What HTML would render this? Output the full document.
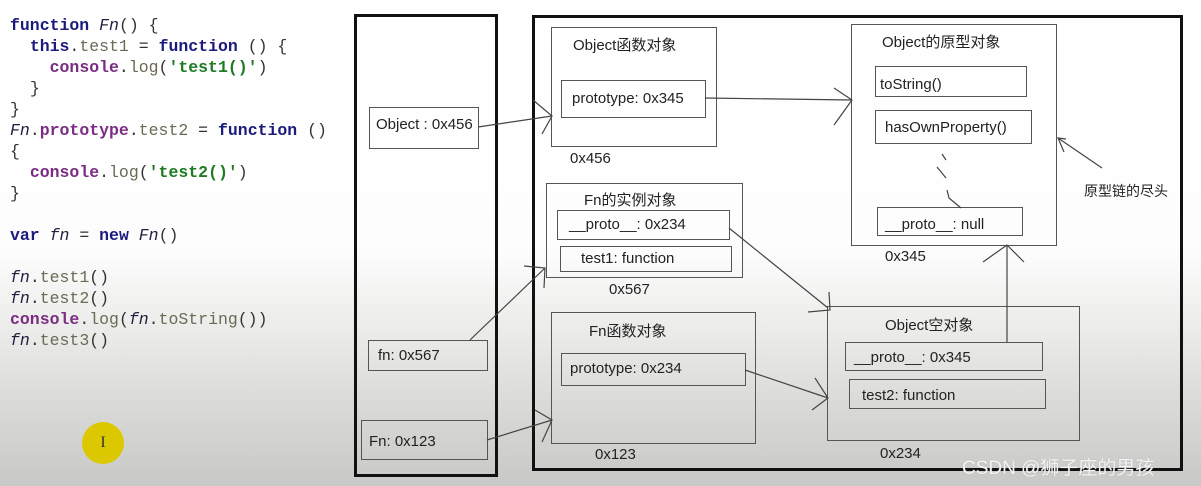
<!DOCTYPE html>
<html><head><meta charset="utf-8"><style>
*{margin:0;padding:0;box-sizing:border-box}
body{width:1201px;height:486px;overflow:hidden;position:relative;font-family:"Liberation Sans","Noto Sans CJK SC",sans-serif;
background:linear-gradient(to bottom,#fff 0,#fdfdfd 250px,#e9e9e7 340px,#d6d7d4 420px,#c8c9c6 486px)}
.code{position:absolute;left:10px;top:15px;font-family:"Liberation Mono",monospace;font-size:16.5px;line-height:21px;white-space:pre;color:#222;font-weight:bold}
.k{color:#1b1b7e}.p{color:#7a2d83}.g{color:#6b6a55;font-weight:normal}.s{color:#1e7a23}.i{font-style:italic;color:#1f1f3f;font-weight:normal}.n{color:#333;font-weight:normal}
.b{position:absolute;border:1.5px solid #555}
.t{position:absolute;font-size:15px;color:#222;white-space:nowrap}
</style></head><body>
<div class="code"><span class="k">function</span> <span class="i">Fn</span><span class="n">() {</span>
  <span class="k">this</span><span class="n">.</span><span class="g">test1</span> <span class="n">=</span> <span class="k">function</span> <span class="n">() {</span>
    <span class="p">console</span><span class="n">.</span><span class="g">log</span><span class="n">(</span><span class="s">'test1()'</span><span class="n">)</span>
  <span class="n">}</span>
<span class="n">}</span>
<span class="i">Fn</span><span class="n">.</span><span class="p">prototype</span><span class="n">.</span><span class="g">test2</span> <span class="n">=</span> <span class="k">function</span> <span class="n">()</span>
<span class="n">{</span>
  <span class="p">console</span><span class="n">.</span><span class="g">log</span><span class="n">(</span><span class="s">'test2()'</span><span class="n">)</span>
<span class="n">}</span>

<span class="k">var</span> <span class="i">fn</span> <span class="n">=</span> <span class="k">new</span> <span class="i">Fn</span><span class="n">()</span>

<span class="i">fn</span><span class="n">.</span><span class="g">test1</span><span class="n">()</span>
<span class="i">fn</span><span class="n">.</span><span class="g">test2</span><span class="n">()</span>
<span class="p">console</span><span class="n">.</span><span class="g">log</span><span class="n">(</span><span class="i">fn</span><span class="n">.</span><span class="g">toString</span><span class="n">())</span>
<span class="i">fn</span><span class="n">.</span><span class="g">test3</span><span class="n">()</span></div>

<div style="position:absolute;left:82px;top:422px;width:42px;height:42px;border-radius:50%;background:#dcc800;text-align:center;line-height:42px;font-family:'Liberation Serif',serif;font-size:16px;color:#333">I</div>

<div class="b" style="left:354px;top:14px;width:144px;height:463px;border:3px solid #111"></div>
<div class="b" style="left:532px;top:15px;width:651px;height:456px;border:3px solid #111"></div>

<div class="b" style="left:369px;top:107px;width:110px;height:42px"></div><div class="t" style="left:376px;top:116px">Object : 0x456</div>
<div class="b" style="left:368px;top:340px;width:120px;height:31px"></div><div class="t" style="left:378px;top:347px">fn: 0x567</div>
<div class="b" style="left:361px;top:420px;width:127px;height:40px"></div><div class="t" style="left:369px;top:433px">Fn: 0x123</div>

<div class="b" style="left:551px;top:27px;width:166px;height:120px"></div><div class="t" style="left:573px;top:34px">Object函数对象</div>
<div class="b" style="left:561px;top:80px;width:145px;height:38px"></div><div class="t" style="left:572px;top:90px">prototype: 0x345</div>
<div class="t" style="left:570px;top:150px">0x456</div>

<div class="b" style="left:546px;top:183px;width:197px;height:95px"></div><div class="t" style="left:584px;top:189px">Fn的实例对象</div>
<div class="b" style="left:557px;top:210px;width:173px;height:30px"></div><div class="t" style="left:569px;top:216px">__proto__: 0x234</div>
<div class="b" style="left:560px;top:246px;width:172px;height:26px"></div><div class="t" style="left:581px;top:250px">test1: function</div>
<div class="t" style="left:609px;top:281px">0x567</div>

<div class="b" style="left:551px;top:312px;width:205px;height:132px"></div><div class="t" style="left:589px;top:320px">Fn函数对象</div>
<div class="b" style="left:561px;top:353px;width:185px;height:33px"></div><div class="t" style="left:570px;top:360px">prototype: 0x234</div>
<div class="t" style="left:595px;top:446px">0x123</div>

<div class="b" style="left:851px;top:24px;width:206px;height:222px"></div><div class="t" style="left:882px;top:31px">Object的原型对象</div>
<div class="b" style="left:875px;top:66px;width:152px;height:31px"></div><div class="t" style="left:880px;top:76px">toString()</div>
<div class="b" style="left:875px;top:110px;width:157px;height:34px"></div><div class="t" style="left:885px;top:119px">hasOwnProperty()</div>
<div class="b" style="left:877px;top:207px;width:146px;height:29px"></div><div class="t" style="left:885px;top:216px">__proto__: null</div>
<div class="t" style="left:885px;top:248px">0x345</div>

<div class="b" style="left:827px;top:306px;width:253px;height:135px"></div><div class="t" style="left:885px;top:314px">Object空对象</div>
<div class="b" style="left:845px;top:342px;width:198px;height:29px"></div><div class="t" style="left:854px;top:349px">__proto__: 0x345</div>
<div class="b" style="left:849px;top:379px;width:197px;height:30px"></div><div class="t" style="left:862px;top:387px">test2: function</div>
<div class="t" style="left:880px;top:445px">0x234</div>

<div class="t" style="left:1084px;top:181px;font-size:14px">原型链的尽头</div>
<div class="t" style="left:962px;top:453px;font-size:19px;color:#f4f4f4;text-shadow:0 0 1px #aaa">CSDN @狮子座的男孩</div>

<svg width="1201" height="486" style="position:absolute;left:0;top:0" fill="none" stroke="#444" stroke-width="1.2">
<path d="M478 127 L552 116 M533 100 L552 116 L542 134"/>
<path d="M705 98 L852 100 M834 88 L852 100 L834 125"/>
<path d="M470 340 L545 268 M524 266 L545 268 L544 288"/>
<path d="M487 440 L552 420 M535 410 L552 420 L542 442"/>
<path d="M729 228 L828 308 M808 312 L830 310 L829 292"/>
<path d="M745 370 L828 398 M815 378 L828 398 L812 410"/>
<path d="M1007 342 L1007 245 M983 262 L1007 245 L1024 262"/>
<path d="M1102 168 L1058 138 M1066 139 L1058 138 L1064 152"/>
<path d="M942 154 L946 160 M937 167 L946 178 M947 190 L949 198 L961 208"/>
</svg>
</body></html>
